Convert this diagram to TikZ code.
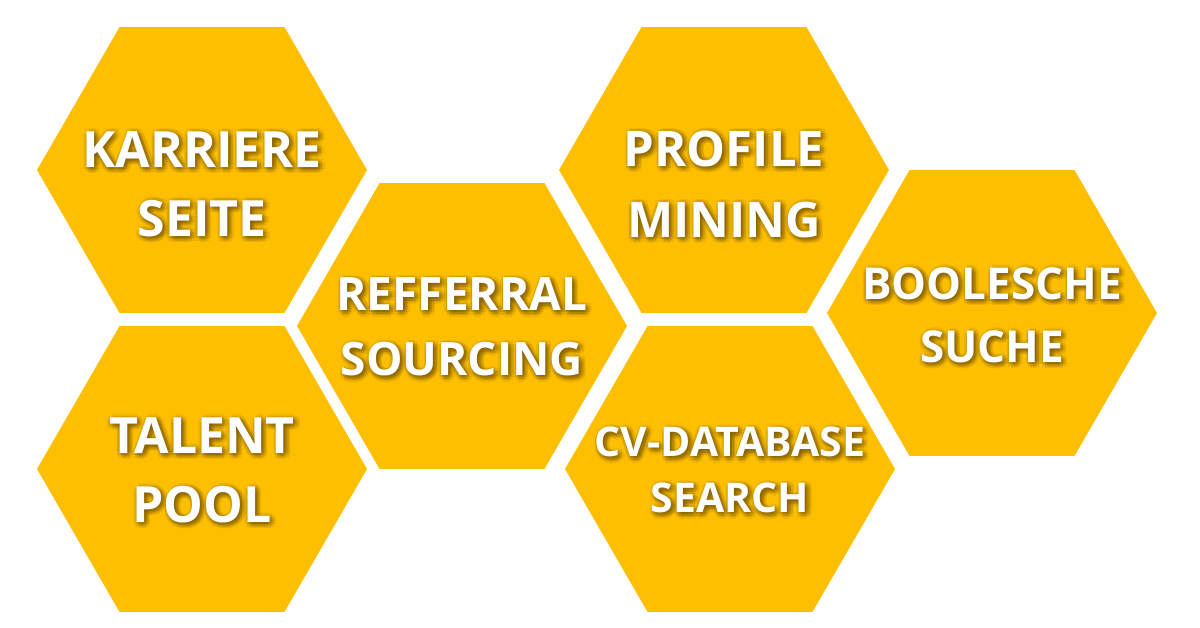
\documentclass[tikz,border=0pt]{standalone}
\usepackage{fontspec}
\setmainfont{Open Sans}
\usetikzlibrary{shapes.geometric}
\definecolor{honey}{HTML}{FDBF00}
\definecolor{honeyshade}{HTML}{6E4E00}
\tikzset{
  hexcell/.style={regular polygon, regular polygon sides=6, minimum size=330pt,
    inner sep=0pt, outer sep=0pt, fill=honey},
  celltext/.style={text=white, align=center, inner sep=0pt},
  cellshade/.style={celltext, text=honeyshade, text opacity=0.11},
}

\begin{document}
\begin{tikzpicture}[x=1pt, y=-1pt]
  \useasboundingbox (0,0) rectangle (1200,627);
  \foreach \id/\hx/\hy/\tx/\ty/\fs/\ls/\txt in {
      karriere/202/170/202/184/50/69/{KARRIERE\\SEITE},
      talent/202/469/202/470/50/69/{TALENT\\POOL},
      referral/462/326/462/327/46/65/{REFFERRAL\\SOURCING},
      profile/724/170/724/184/49/71/{PROFILE\\MINING},
      cvbase/730/469/730/470/41/56/{CV-DATABASE\\SEARCH},
      boolesch/992/313/992/315/44/63/{BOOLESCHE\\SUCHE}}{
    \node[hexcell] (hex-\id) at (\hx,\hy) {};
    % soft shadow under the label
    \foreach \a in {0,45,...,315}
      \foreach \r in {2,4.5}
        \node[cellshade, font=\fontsize{\fs}{\ls}\selectfont\bfseries]
          at ([shift={(\a:\r)}] \tx+2,\ty+2) {\txt};
    \node[celltext, font=\fontsize{\fs}{\ls}\selectfont\bfseries]
      (lbl-\id) at (\tx,\ty) {\txt};
  }
\end{tikzpicture}
\end{document}
